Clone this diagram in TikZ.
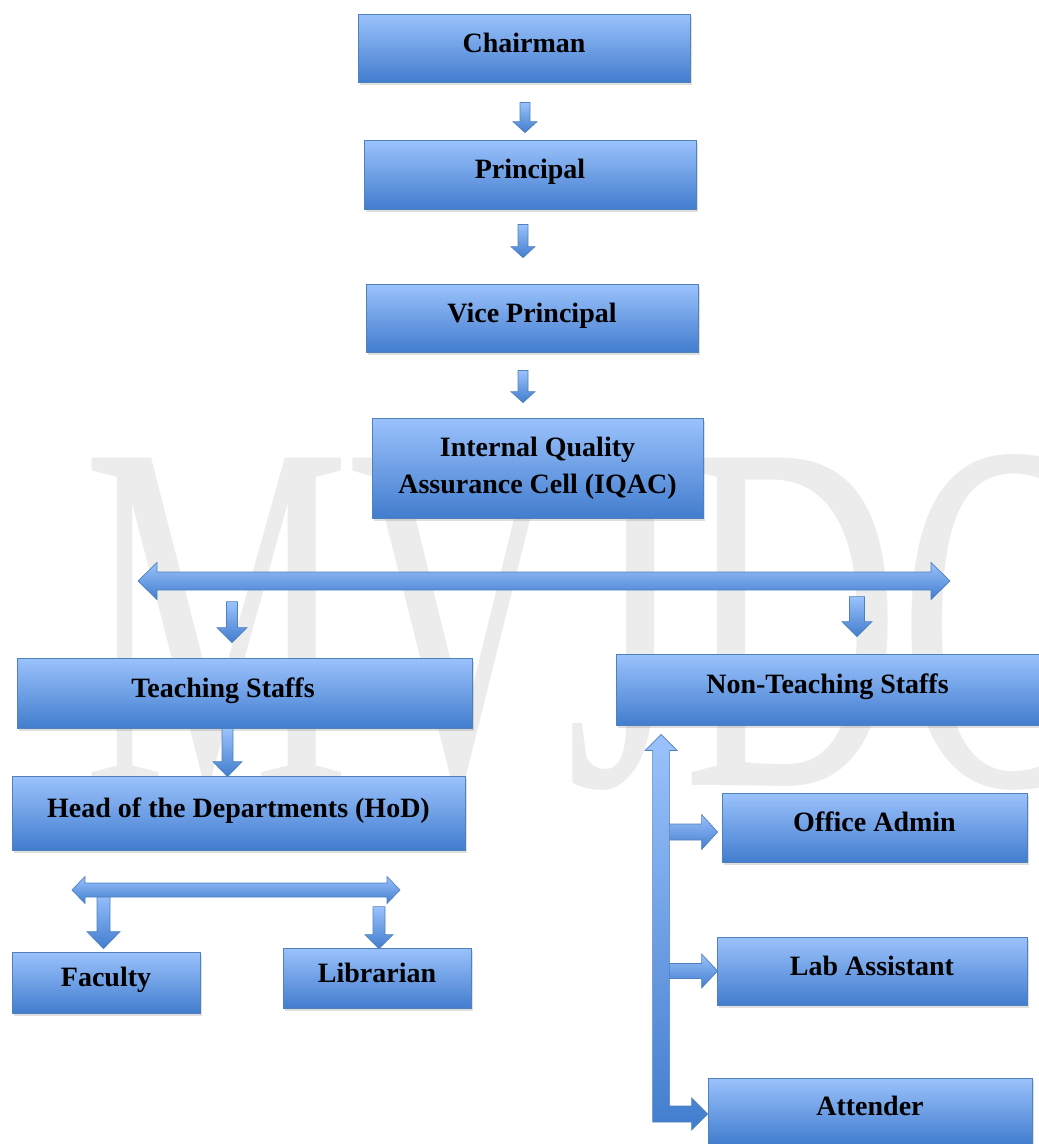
\documentclass[tikz,border=0pt]{standalone}
\usepackage{fontspec}
\setmainfont{Liberation Serif}
\usetikzlibrary{calc,shadows}

\definecolor{boxtop}{RGB}{155,194,252}
\definecolor{boxbot}{RGB}{66,125,206}
\definecolor{boxline}{RGB}{79,129,189}
\definecolor{wmgray}{RGB}{236,236,236}

% block arrows: points, half shaft, half head, head length
\newcommand{\downarr}[5]{%
\path[arr] let \p1=(#1), \p2=(#2) in
 (\x1-#3pt,\y1) -- (\x1+#3pt,\y1) -- (\x1+#3pt,\y2+#5pt) -- (\x1+#4pt,\y2+#5pt)
 -- (\x1,\y2) -- (\x1-#4pt,\y2+#5pt) -- (\x1-#3pt,\y2+#5pt) -- cycle;}
\newcommand{\rightarr}[5]{%
\path[arr] let \p1=(#1), \p2=(#2) in
 (\x1,\y1+#3pt) -- (\x2-#5pt,\y1+#3pt) -- (\x2-#5pt,\y1+#4pt) -- (\x2,\y1)
 -- (\x2-#5pt,\y1-#4pt) -- (\x2-#5pt,\y1-#3pt) -- (\x1,\y1-#3pt) -- cycle;}
\newcommand{\twoarr}[5]{%
\path[arr] let \p1=(#1), \p2=(#2) in
 (\x1,\y1) -- (\x1+#5pt,\y1+#4pt) -- (\x1+#5pt,\y1+#3pt) -- (\x2-#5pt,\y1+#3pt)
 -- (\x2-#5pt,\y1+#4pt) -- (\x2,\y1) -- (\x2-#5pt,\y1-#4pt) -- (\x2-#5pt,\y1-#3pt)
 -- (\x1+#5pt,\y1-#3pt) -- (\x1+#5pt,\y1-#4pt) -- cycle;}

\tikzset{
  box/.style={draw=boxline, line width=0.8pt, top color=boxtop, bottom color=boxbot,
    drop shadow={shadow xshift=2pt, shadow yshift=-3pt, opacity=0.25},
    font=\bfseries\fontsize{28}{37}\selectfont, inner sep=0pt, align=center},
  onel/.style={box, text height=20pt, text depth=12pt},
  arr/.style={draw=boxline, line width=0.7pt, top color=boxtop, bottom color=boxbot},
  wmark/.style={text=wmgray, font=\fontsize{500}{500}\selectfont, inner sep=0pt,
    anchor=base west, xscale=0.6, transform shape}
}

\begin{document}
\begin{tikzpicture}[x=1pt,y=-1pt]
\useasboundingbox (0,0) rectangle (1039,1144);

\node[wmark] (wm) at (83,785) {MVJDC};

\node[onel, minimum width=332pt, minimum height=68pt] (chair) at (524,48) {Chairman};
\node[onel, minimum width=332pt, minimum height=69pt] (prin) at (530,174.5) {Principal};
\node[onel, minimum width=332pt, minimum height=68pt] (vice) at (532,318) {Vice Principal};
\node[box, minimum width=331pt, minimum height=100pt] (iqac) at (537.5,468) {Internal Quality\\Assurance Cell (IQAC)};

\node[onel, minimum width=455pt, minimum height=70pt] (teach) at (244.5,693) {Teaching Staffs\hspace{43pt}};
\node[onel, minimum width=423pt, minimum height=71pt] (nonteach) at (827.5,689.5) {Non-Teaching Staffs};
\node[onel, minimum width=453pt, minimum height=74pt] (hod) at (238.5,813) {Head of the Departments (HoD)};
\node[onel, minimum width=188pt, minimum height=61pt] (fac) at (106,982.5) {Faculty};
\node[onel, minimum width=188pt, minimum height=60pt] (lib) at (377,978) {Librarian};

\node[onel, minimum width=305pt, minimum height=69pt] (office) at (874.5,827.5) {Office Admin};
\node[onel, minimum width=310pt, minimum height=68pt] (lab) at (872,971) {Lab Assistant};
\node[onel, minimum width=324pt, minimum height=66pt] (att) at (870,1111) {Attender};

\coordinate (splitL) at (138,581);
\coordinate (splitR) at (950,581);
\coordinate (hodL) at (72,890);
\coordinate (hodR) at (400,890);
\coordinate (ltip) at ($(nonteach.south west)+(45.5,9)$);

\downarr{$(chair.south)+(1,20)$}{$(prin.north)+(0,-7)$}{5}{12}{11}
\downarr{$(prin.south)+(-7,15)$}{$(vice.north)+(0,-26)$}{5}{12}{11}
\downarr{$(vice.south)+(-9,18)$}{$(iqac.north)+(0,-15)$}{5}{12}{11}

\twoarr{splitL}{splitR}{9}{18.5}{19}
\downarr{$(teach.north)+(-12.5,-56)$}{$(teach.north)+(0,-15)$}{5.5}{15}{15}
\downarr{$(nonteach.north)+(29.5,-57)$}{$(nonteach.north)+(0,-17)$}{7.5}{15}{15}

\downarr{$(teach.south)+(-17,0)$}{$(hod.north)+(0,1)$}{5.5}{14.5}{15}
\downarr{$(fac.north)+(-2.5,-59)$}{$(fac.north)+(0,-3)$}{6.5}{16.5}{17}
\downarr{$(lib.north)+(2,-41)$}{$(lib.north)+(0,1)$}{6}{14}{14}
\twoarr{hodL}{hodR}{7}{13.5}{13}

\rightarr{$(ltip |- office.west)+(4,4.5)$}{$(office.west)+(-4,4.5)$}{8}{17.5}{16}
\rightarr{$(ltip |- lab.west)+(4,0)$}{$(lab.west)+(1,0)$}{7.5}{17}{16}
\path[arr] let \p1=(ltip), \p2=($(att.west)+(0,3)$) in
 (\x1,\y1) -- (\x1+16pt,\y1-16pt) -- (\x1+8.5pt,\y1-16pt) -- (\x1+8.5pt,\y2+8pt)
 -- (\x2-16pt,\y2+8pt) -- (\x2-16pt,\y2+16pt) -- (\x2,\y2) -- (\x2-16pt,\y2-16pt)
 -- (\x2-16pt,\y2-8pt) -- (\x1-8.5pt,\y2-8pt) -- (\x1-8.5pt,\y1-16pt)
 -- (\x1-16pt,\y1-16pt) -- cycle;
\end{tikzpicture}
\end{document}
